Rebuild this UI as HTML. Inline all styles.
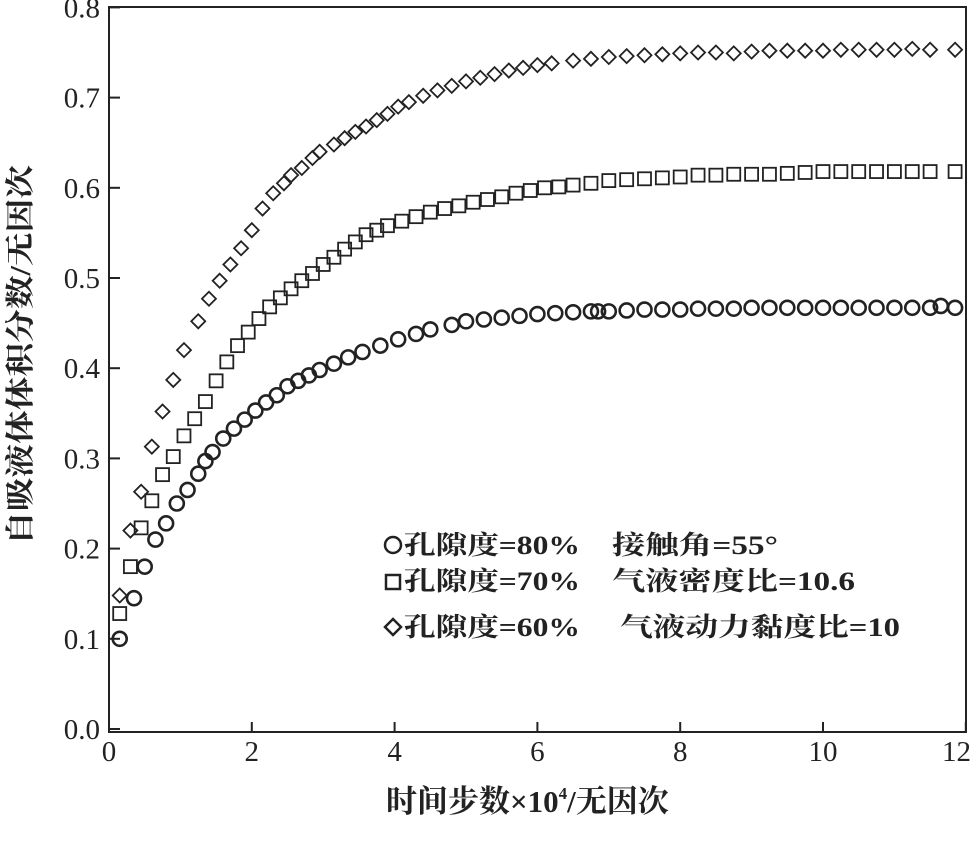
<!DOCTYPE html>
<html><head><meta charset="utf-8"><style>
body{margin:0;background:#fff;}
svg{display:block;}
.tick{font-family:"Liberation Serif","Noto Serif CJK SC",serif;font-size:29px;fill:#222;}
.cjk{font-family:"Liberation Serif","Noto Serif CJK SC",serif;fill:#222;}
</style></head><body>
<svg id="chart" width="972" height="849" xmlns="http://www.w3.org/2000/svg">
<g id="marks"></g>
<rect x="109" y="7" width="857" height="725" fill="none" stroke="#222" stroke-width="2"/>
<g id="axes"></g>
<text class="cjk" x="386" y="812" font-size="31" font-weight="bold">时间步数×10<tspan font-size="17" dy="-13">4</tspan><tspan dy="13">/无因次</tspan></text>
<text class="cjk" transform="translate(30,355) rotate(-90)" font-size="29" font-weight="bold" text-anchor="middle" textLength="380" lengthAdjust="spacingAndGlyphs">自吸液体体积分数/无因次</text>
<g>
<circle cx="393" cy="545" r="8" fill="none" stroke="#222" stroke-width="2.5"/>
<text class="cjk" x="404" y="554" font-size="26" font-weight="bold" textLength="176" lengthAdjust="spacingAndGlyphs">孔隙度=80%</text>
<text class="cjk" x="612" y="554" font-size="26" font-weight="bold" textLength="166" lengthAdjust="spacingAndGlyphs">接触角=55°</text>
<rect x="386" y="575" width="14" height="14" fill="none" stroke="#222" stroke-width="2.5"/>
<text class="cjk" x="404" y="590" font-size="26" font-weight="bold" textLength="176" lengthAdjust="spacingAndGlyphs">孔隙度=70%</text>
<text class="cjk" x="612" y="590" font-size="26" font-weight="bold" textLength="243" lengthAdjust="spacingAndGlyphs">气液密度比=10.6</text>
<path d="M393 619 L401 627 L393 635 L385 627 Z" fill="none" stroke="#222" stroke-width="2.5"/>
<text class="cjk" x="404" y="636" font-size="26" font-weight="bold" textLength="176" lengthAdjust="spacingAndGlyphs">孔隙度=60%</text>
<text class="cjk" x="620" y="636" font-size="26" font-weight="bold" textLength="280" lengthAdjust="spacingAndGlyphs">气液动力黏度比=10</text>
</g>
</svg>
<script>
const xTicks=[0,2,4,6,8,10,12];
const yTicks=[0.0,0.1,0.2,0.3,0.4,0.5,0.6,0.7,0.8];
const circleX=[0.15,0.35,0.5,0.65,0.8,0.95,1.1,1.25,1.35,1.45,1.6,1.75,1.9,2.05,2.2,2.35,2.5,2.65,2.8,2.95,3.15,3.35,3.55,3.8,4.05,4.3,4.5,4.8,5.0,5.25,5.5,5.75,6.0,6.25,6.5,6.75,6.85,7.0,7.25,7.5,7.75,8.0,8.25,8.5,8.75,9.0,9.25,9.5,9.75,10.0,10.25,10.5,10.75,11.0,11.25,11.5,11.65,11.85];
const circleY=[0.10,0.145,0.18,0.21,0.228,0.25,0.265,0.283,0.297,0.307,0.322,0.333,0.343,0.353,0.362,0.37,0.38,0.386,0.392,0.398,0.405,0.412,0.418,0.425,0.432,0.438,0.443,0.448,0.452,0.454,0.456,0.458,0.46,0.461,0.462,0.463,0.463,0.463,0.464,0.465,0.465,0.465,0.466,0.466,0.466,0.467,0.467,0.467,0.467,0.467,0.467,0.467,0.467,0.467,0.467,0.467,0.469,0.467];
const squareX=[0.15,0.3,0.45,0.6,0.75,0.9,1.05,1.2,1.35,1.5,1.65,1.8,1.95,2.1,2.25,2.4,2.55,2.7,2.85,3.0,3.15,3.3,3.45,3.6,3.75,3.9,4.1,4.3,4.5,4.7,4.9,5.1,5.3,5.5,5.7,5.9,6.1,6.3,6.5,6.75,7.0,7.25,7.5,7.75,8.0,8.25,8.5,8.75,9.0,9.25,9.5,9.75,10.0,10.25,10.5,10.75,11.0,11.25,11.5,11.85];
const squareY=[0.128,0.18,0.223,0.253,0.282,0.302,0.325,0.344,0.363,0.386,0.407,0.425,0.44,0.455,0.468,0.478,0.488,0.497,0.505,0.515,0.523,0.532,0.54,0.548,0.553,0.558,0.563,0.568,0.573,0.577,0.58,0.584,0.587,0.59,0.594,0.597,0.6,0.601,0.603,0.605,0.608,0.609,0.61,0.611,0.612,0.614,0.614,0.615,0.615,0.615,0.616,0.617,0.618,0.618,0.618,0.618,0.618,0.618,0.618,0.618];
const diamondX=[0.15,0.3,0.45,0.6,0.75,0.9,1.05,1.25,1.4,1.55,1.7,1.85,2.0,2.15,2.3,2.45,2.55,2.7,2.85,2.95,3.15,3.3,3.45,3.6,3.75,3.9,4.05,4.2,4.4,4.6,4.8,5.0,5.2,5.4,5.6,5.8,6.0,6.2,6.5,6.75,7.0,7.25,7.5,7.75,8.0,8.25,8.5,8.75,9.0,9.25,9.5,9.75,10.0,10.25,10.5,10.75,11.0,11.25,11.5,11.85];
const diamondY=[0.148,0.22,0.263,0.313,0.352,0.387,0.42,0.452,0.477,0.497,0.515,0.533,0.553,0.577,0.594,0.605,0.614,0.622,0.633,0.64,0.648,0.655,0.662,0.668,0.675,0.682,0.69,0.695,0.702,0.708,0.713,0.718,0.722,0.726,0.73,0.733,0.736,0.738,0.741,0.743,0.745,0.746,0.747,0.748,0.749,0.75,0.75,0.749,0.751,0.752,0.752,0.752,0.752,0.753,0.753,0.753,0.753,0.754,0.753,0.753];
const NS='http://www.w3.org/2000/svg';
function sx(v){return 109+v*71.4;}
function sy(v){return 729-v*902;}
const axes=document.getElementById('axes'), marks=document.getElementById('marks');
function mk(tag,attrs,parent){const e=document.createElementNS(NS,tag);for(const k in attrs)e.setAttribute(k,attrs[k]);parent.appendChild(e);return e;}
xTicks.forEach((t,i)=>{
  const l=mk('line',{x1:sx(t),x2:sx(t),y1:732,y2:722,stroke:'#222','stroke-width':2},axes);
  
  
  const last=i===xTicks.length-1;
  const tx=mk('text',{x:last?971:sx(t),y:761,'text-anchor':last?'end':'middle',class:'tick'},axes);
  tx.textContent=t;
  
  
});
yTicks.forEach(t=>{
  const l=mk('line',{x1:109,x2:120,y1:sy(t),y2:sy(t),stroke:'#222','stroke-width':2},axes);
  
  
  const tx=mk('text',{x:100,y:sy(t)+10,'text-anchor':'end',class:'tick'},axes);
  tx.textContent=t.toFixed(1);
  
  
});
circleX.forEach((x,i)=>{
  const c=mk('circle',{cx:sx(x),cy:sy(circleY[i]),r:7,fill:'none',stroke:'#222','stroke-width':2.6},marks);
  
  
});
squareX.forEach((x,i)=>{
  const c=mk('rect',{x:sx(x)-6.5,y:sy(squareY[i])-6.5,width:13,height:13,fill:'none',stroke:'#222','stroke-width':1.8},marks);
  
  
});
diamondX.forEach((x,i)=>{
  const cx=sx(x),cy=sy(diamondY[i]);
  const c=mk('path',{d:`M${cx} ${cy-7}L${cx+7} ${cy}L${cx} ${cy+7}L${cx-7} ${cy}Z`,fill:'none',stroke:'#222','stroke-width':1.8},marks);
  
  
});
</script>
</body></html>
